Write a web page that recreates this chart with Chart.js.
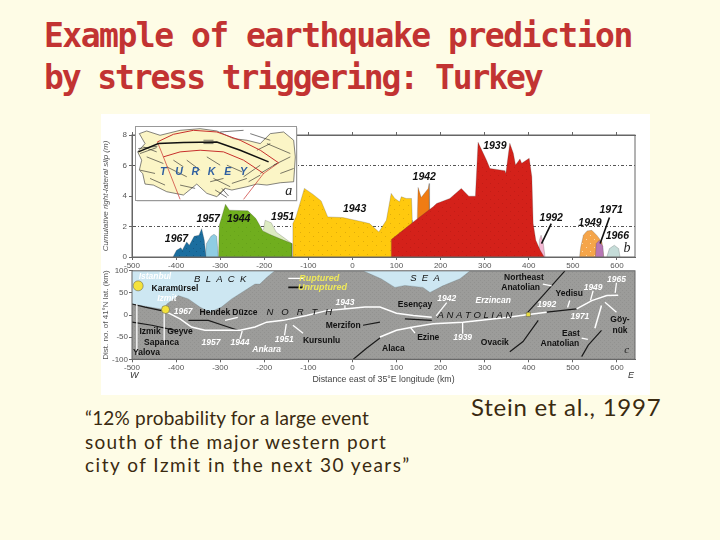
<!DOCTYPE html>
<html><head><meta charset="utf-8">
<script src="https://cdn.jsdelivr.net/npm/chart.js@4"></script>
<style>
html,body{margin:0;padding:0;width:720px;height:540px;overflow:hidden;background:#FEFCE6}
.t{position:absolute;white-space:nowrap}
#title1,#title2{left:44px;font:bold 33px "DejaVu Sans Mono","Open Sans",sans-serif;color:#C23332}
#title1{top:16px;letter-spacing:-1.5px}
#title2{top:58px;letter-spacing:-2.1px}
.q{left:85px;font:19px "Lato",sans-serif;color:#3A2A10}
#stein{left:471px;top:392px;font:24px "Lato",sans-serif;color:#3A2A10;letter-spacing:.75px}
#paper{position:absolute;left:101px;top:114px;width:549px;height:281px;background:#fff}
canvas{position:absolute;filter:blur(.35px)}
#cTop{left:101px;top:114px}
#cBot{left:101px;top:265px}
#cMap{left:136px;top:127px;box-shadow:1px 1px 1px #777;outline:1px solid #999}
</style></head><body>
<div id="title1" class="t">Example of earthquake prediction</div>
<div id="title2" class="t">by stress triggering: Turkey</div>
<div id="paper"></div>
<canvas id="cTop" width="549" height="156"></canvas>
<canvas id="cBot" width="549" height="120"></canvas>
<canvas id="cMap" width="160" height="73"></canvas>
<div class="t q" style="top:406px;letter-spacing:.2px">“12% probability for a large event</div>
<div class="t q" style="top:430px;letter-spacing:1.2px">south of the major western port</div>
<div class="t q" style="top:453px;letter-spacing:1.5px">city of Izmit in the next 30 years”</div>
<div id="stein" class="t">Stein et al., 1997</div>
<script>
// ---------- top panel: cumulative right-lateral slip (km, m) ----------
const km1967=[-407,-399,-389,-386,-376,-370,-359,-348,-342,-336,-332];
const slip1967=[0,.44,.61,.44,.99,.77,1.36,1.43,1.86,1.1,0];
const km1957=[-334,-331,-321,-314,-308,-304];
const slip1957=[0,.88,1.36,1.49,1.36,0];
const km1944=[-304,-302,-288,-279,-237,-219,-203,-188,-165,-137,-137];
const slip1944=[0,2.08,3.46,3.07,3.03,2.52,1.71,1.49,1.21,.88,0];
const km1951=[-202,-198,-184,-173,-158,-139,-139];
const slip1951=[1.75,2.41,2.24,1.64,1.32,.92,0];
const km1943=[-137,-135,-128,-109,-90,-71,-56,-22,24,39,60,77,88,96,107,111,122,134,136,136];
const slip1943=[0,2.2,2.63,4.5,4.12,3.68,2.63,2.59,2.3,2.19,1.64,2.41,4.17,3.84,3.62,3.95,3.84,3.84,2.41,0];
const km1942=[147,149,156,172,174,175,175];
const slip1942=[2.52,4.56,3.9,4.5,4.82,3.18,0];
const km1939=[88,88,138,183,191,221,247,264,279,285,304,312,346,348,357,365,370,380,384,395,401,407,410,416,426,435];
const slip1939=[0,1.14,2.3,3.29,3.51,3.84,4.5,3.99,3.99,7.52,6.36,5.81,5.66,5.48,7.46,6.8,6.03,6.43,6.14,6.36,6.47,5.26,2.19,1.1,.44,0];
const km1992=[424,424,428,433,437];
const slip1992=[0,1.1,1.43,.88,0];
const km1949=[515,518,524,532,543,554,566,570];
const slip1949=[0,.66,1.43,1.71,1.75,1.43,.99,0];
const km1971=[551,553,560,568,570];
const slip1971=[0,.88,1.1,.7,0];
const km1966=[577,583,594,604,607];
const slip1966=[0,.55,.77,.55,0];
const leader1992Km=[451,429], leader1992Slip=[2.19,.88];
const leader1971Km=[583,562], leader1971Slip=[2.59,.88];
const topTicksX=[-500,-400,-300,-200,-100,0,100,200,300,400,500,600];
const topLabelText=['1967','1957','1944','1951','1943','1942','1939','1992','1949','1971','1966'];
const topLabelKm=[-399,-327,-258,-158,5,163,323,451,539,587,601];
const topLabelSlip=[1.2,2.48,2.48,2.59,3.14,5.22,7.24,2.57,2.19,3.07,1.4];

// ---------- bottom panel: map strip (km, distance) ----------
const coastKm=[-500,-470.5,-427,-421,-395,-372,-346,-323,-297,-274,-251,-221,-210,-194.5,-176,24,65,96.5,119,160,176,205,244,267,640];
const coastDist=[25,20,12.5,25,44,36.5,18,6.5,18,36.5,51,70,70,85,100,100,82,62.5,67,62.5,51,66,82,100,100];
const ruptAKm=[-421,-391,-365,-334.5,-255,-221,-194.5,-157,-104,-58.5,-13,28.5,62.5,100,138,180];
const ruptADist=[6.5,-8.5,-27,-34.5,-34.5,-27,-16,-12,-1,10,14,18,18,4,-1,-5];
const ruptBKm=[62.5,100,138,183,251,354,395,440.6];
const ruptBDist=[-49.5,-34.5,-27,-19.5,-16,-5,.7,6.5];
const ruptCKm=[508.6,543,577,603];
const ruptCDist=[14,32.7,44,45];
const ruptDKm=[565,550];
const ruptDDist=[21.5,-30];
const unrupt=[
 [[-500,-470.5,-433],[25,18,10]],
 [[-500,-455,-402],[-16,-23,-34.5]],
 [[-372,-327,-282,-259],[-12,-12,-27,-34.5]],
 [[24,62.5],[-23,-16]],
 [[119,180],[-8.5,-12]],
 [[440.6,508.6],[6.5,14]],
 [[395,432,482],[3,44,100]],
 [[421.5,387,357],[-12,-60,-83]],
 [[565,535,520],[-34.5,-68,-94]],
 [[2,32,62.5],[-100,-75,-52]]
];
const whiteLeaders=[
 [[-489,-489],[25,-90]],[[-427,-427],[6.5,-68]],
 [[-145.5,-111.5],[83,83]],[[-17,-17],[22,14]],[[214,190],[28,-2]],
 [[250,250],[-42,-18]],[[-154,-150],[-46,-20]],[[-255,-250],[-54,-36]],
 [[546,540],[55,33]],[[599,596],[73,50]],[[508,508],[-4,-4]],
 [[-112,-135],[-41,-23]],[[142,131],[-41,-27]],[[599,573],[6.5,29]],
 [[452,432],[66,70]],[[493,488],[33,17]],[[534,520],[-55,-52]],[[-289,-260],[-12,-5]]
];
const legendUnruptKm=[-145.5,-111.5], legendUnruptDist=[62.5,62.5];
const istanbulKm=[-486], istanbulDist=[66];
const izmitKm=[-424], izmitDist=[12.5];
const erzincanKm=[399], erzincanDist=[1.3];
const botTicksY=[-100,-50,0,50,100];
const botLabelText=['Karamürsel','Hendek','Düzce','Izmik','Geyve','Sapanca','Yalova','Kursunlu','Merzifon','Esençay','Ezine','Alaca','Ovacik','Northeast','Anatolian','Yedisu','Göy-','nük','East','Anatolian'];
const botLabelKm=[-402.5,-312,-244,-459,-391,-433,-467,-70,-21,142,172,93,323,389,381.5,492,607,607,495.7,470.7];
const botLabelDist=[60,6.5,6.5,-38,-38,-63,-84,-57,-23,23,-51,-75,-62,85,62.5,47.7,-10,-34.5,-42,-64];
const whiteLabelText=['Istanbul','Izmit','1967','1957','1944','Ankara','1951','1943','1942','Erzincan','1939','1949','1965','1992','1971'];
const whiteLabelKm=[-448,-421,-384,-321,-255,-194.5,-154.5,-17,214,319.5,250,546,599,440.6,516];
const whiteLabelDist=[87,36.5,8,-62,-62,-78,-55,29,36.5,32.7,-51,62.5,81,23.7,-4.7];
const spacedText=['B  L  A  C  K','N   O   R   T   H','S  E  A','A N A T O L I A N'];
const spacedKm=[-300,-120.5,164.5,278];
const spacedDist=[81,6.5,82.6,-1];

// ---------- inset map of Turkey (map grid units) ----------
const turkeyX=[118,140,180,240,300,350,400,440,480,510,550,580,585,580,540,500,470,440,395,375,350,320,290,250,200,160,135,128,118,125,113,135,118];
const turkeyY=[70,62,75,60,55,62,85,90,100,70,65,90,140,215,218,225,222,230,240,235,260,250,222,255,245,225,222,190,180,150,125,100,70];
const redOuterX=[172,220,280,350,420,480,535], redOuterY=[95,72,60,65,90,120,158];
const redInnerX=[190,240,300,370,430,490], redInnerY=[140,125,120,125,150,190];
const redWestX=[172,190,240], redWestY=[95,140,268];
const redEastX=[535,490,430], redEastY=[158,190,268];
const faultX=[115,175,250,350,420,505], faultY=[125,100,97,95,120,155];
const thinFaults=[
 [[310,340],[90,90]],[[310,340],[100,100]],
 [[120,165],[180,190]],[[140,190],[140,160]],[[200,260],[170,200]],[[260,300],[150,180]],
 [[340,390],[205,230]],[[345,380],[240,262]],[[430,480],[200,165]],[[500,570],[100,130]],
 [[520,570],[165,140]],[[450,510],[70,90]],[[360,430],[65,60]],[[130,170],[110,125]],[[480,530],[190,160]],
 [[115,172],[115,108]],[[120,170],[130,112]],[[150,195],[205,225]],[[220,250],[150,170]],[[320,360],[140,165]],
 [[380,425],[165,185]],[[330,370],[215,205]],[[445,480],[215,195]],[[540,580],[190,175]],[[240,285],[225,235]],
 [[355,375],[255,235]],[[365,385],[235,258]],[[395,440],[220,205]],[[470,510],[120,100]]
];

const pts=(xs,ys)=>xs.map((x,i)=>({x,y:ys[i]}));
function pattern(base,dot,step){
  const c=document.createElement('canvas');c.width=c.height=step;
  const g=c.getContext('2d');g.fillStyle=base;g.fillRect(0,0,step,step);
  g.fillStyle=dot;g.fillRect(1,1,1,1);g.fillRect(Math.floor(step/2)+1,Math.floor(step/2)+1,1,1);
  return g.createPattern(c,'repeat');
}
const area=(xs,ys,col,order,edge)=>({data:pts(xs,ys),backgroundColor:col,borderColor:edge||'rgba(60,60,60,.45)',borderWidth:.5,fill:'origin',pointRadius:0,tension:0,order});
const line=(xs,ys,col,w,order)=>({data:pts(xs,ys),borderColor:col,borderWidth:w,fill:false,pointRadius:0,tension:0,order:order||0});
const dot=(xs,ys,col,r,style)=>({data:pts(xs,ys),showLine:false,pointRadius:r,pointStyle:style||'circle',pointBackgroundColor:col,pointBorderColor:'#555',pointBorderWidth:.5,order:0});
const frame={id:'frame',afterDraw(c){const a=c.chartArea,g=c.ctx;g.save();g.strokeStyle='#666';g.lineWidth=1;g.strokeRect(a.left,a.top,a.width,a.height);g.restore();}};
function textPlugin(id,groups){return {id,afterDatasetsDraw(c){const g=c.ctx,sx=c.scales.x,sy=c.scales.y;g.save();g.textAlign='center';g.textBaseline='middle';
  groups.forEach(o=>{g.font=o.font;g.fillStyle=o.color;o.text.forEach((t,i)=>g.fillText(t,sx.getPixelForValue(o.xs[i]),sy.getPixelForValue(o.ys[i])));});g.restore();}};}
const tickFont={family:'Liberation Sans',size:8};
const addX=(vals)=>s=>{s.ticks=vals.map(value=>({value}));};
const base={responsive:false,animation:false,plugins:{legend:{display:false},tooltip:{enabled:false}}};

new Chart(document.getElementById('cTop'),{type:'line',
 data:{datasets:[
  area(km1939,slip1939,pattern('#D4211A','#C21C16',8),2),
  area(km1942,slip1942,'#F07C13',3),
  area(km1943,slip1943,pattern('#FFC90E','#E0AC0A',9),4),
  area(km1944,slip1944,pattern('#70AE1E','#66A21A',8),5),
  area(km1951,slip1951,'#DDEBC2',6),
  area(km1967,slip1967,pattern('#1B6E9F','#155A85',7),5),
  area(km1957,slip1957,'#8FCDE3',5),
  area(km1992,slip1992,'#F3B7D2',3),
  area(km1971,slip1971,'#B777B5',3),
  area(km1949,slip1949,pattern('#F5A54A','#FBD9A8',8),4),
  area(km1966,slip1966,'#C5DCD8',4),
  line(leader1992Km,leader1992Slip,'#111',1.6,1),
  line(leader1971Km,leader1971Slip,'#111',1.6,1)
 ]},
 options:{...base,layout:{padding:{top:21,right:15,left:0,bottom:0}},
  scales:{
   x:{type:'linear',min:-500,max:641,afterBuildTicks:addX(topTicksX),afterFit:s=>{s.height=13},
      grid:{drawOnChartArea:false,tickLength:3,tickColor:'#666'},border:{color:'#666'},
      ticks:{font:tickFont,color:'#555',padding:1,autoSkip:false,maxRotation:0}},
   xTop:{type:'linear',position:'top',min:-500,max:641,afterBuildTicks:addX(topTicksX),afterFit:s=>{s.height=0},
      grid:{drawOnChartArea:false,tickLength:3,tickColor:'#666'},ticks:{display:false},border:{color:'#666'}},
   y:{min:0,max:8,afterFit:s=>{s.width=31},
      title:{display:true,text:'Cumulative right-lateral slip (m)',font:{family:'Liberation Sans',size:8,style:'italic'},color:'#555',padding:0},
      grid:{color:c=>(c.tick&&(c.tick.value===2||c.tick.value===6))?'#555':'transparent',tickColor:'#666',tickLength:3},
      border:{dash:[3,2,1,2],color:'#666'},
      ticks:{stepSize:2,font:tickFont,color:'#555',padding:2}}
  }},
 plugins:[frame,textPlugin('topText',[
   {font:'italic bold 10.5px "Liberation Sans"',color:'#111',text:topLabelText,xs:topLabelKm,ys:topLabelSlip},
   {font:'italic 14px "Liberation Serif"',color:'#222',text:['b'],xs:[623],ys:[.55]}
 ])]
});

new Chart(document.getElementById('cBot'),{type:'line',
 data:{datasets:[
  {...line(coastKm,coastDist,'rgba(90,110,120,.5)',.5,5),fill:'end',backgroundColor:'#CDE7F2'},
  ...unrupt.map(u=>line(u[0],u[1],'#1A1A1A',1.2,3)),
  line(legendUnruptKm,legendUnruptDist,'#111',1.8,3),
  line(ruptAKm,ruptADist,'#FFFFFF',1.5,2),
  line(ruptBKm,ruptBDist,'#FFFFFF',1.5,2),
  line(ruptCKm,ruptCDist,'#FFFFFF',1.5,2),
  line(ruptDKm,ruptDDist,'#FFFFFF',1.5,2),
  ...whiteLeaders.map(u=>line(u[0],u[1],'#FFFFFF',1.3,2)),
  dot(istanbulKm,istanbulDist,'#F4E23C',5),
  dot(izmitKm,izmitDist,'#F4E23C',4),
  dot(erzincanKm,erzincanDist,'#E8DC40',3,'rect')
 ]},
 options:{...base,layout:{padding:{top:5,right:15,left:0,bottom:0}},
  scales:{
   x:{type:'linear',min:-500,max:641,afterBuildTicks:addX(topTicksX),afterFit:s=>{s.height=25.7},
      title:{display:true,text:'Distance east of 35°E longitude (km)',font:{family:'Liberation Sans',size:8.75},color:'#444',padding:{top:2,bottom:0}},
      grid:{drawOnChartArea:false,tickLength:3,tickColor:'#666'},border:{color:'#666'},
      ticks:{font:tickFont,color:'#555',padding:1,autoSkip:false,maxRotation:0}},
   y:{min:-100,max:100,afterBuildTicks:addX(botTicksY),afterFit:s=>{s.width=31},
      title:{display:true,text:'Dist. no. of 41°N lat. (km)',font:{family:'Liberation Sans',size:8},color:'#555',padding:0},
      grid:{drawOnChartArea:false,tickLength:3,tickColor:'#666'},border:{color:'#666'},
      ticks:{font:tickFont,color:'#555',padding:1}}
  }},
 plugins:[
  {id:'land',beforeDatasetsDraw(c){const a=c.chartArea,g=c.ctx;g.save();g.fillStyle=pattern('#9C9C9A','#929290',4);g.fillRect(a.left,a.top,a.width,a.height);g.restore();}},
  frame,
  textPlugin('botText',[
   {font:'bold 8.5px "Liberation Sans"',color:'#111',text:botLabelText,xs:botLabelKm,ys:botLabelDist},
   {font:'italic bold 8.5px "Liberation Sans"',color:'#FFFFFF',text:whiteLabelText,xs:whiteLabelKm,ys:whiteLabelDist},
   {font:'italic 9.5px "Liberation Sans"',color:'#111',text:spacedText,xs:spacedKm,ys:spacedDist},
   {font:'italic bold 9px "Liberation Sans"',color:'#EEE85A',text:['Ruptured','Unruptured'],xs:[-75,-68],ys:[83,62.5]},
   {font:'italic 9px "Liberation Sans"',color:'#333',text:['W','E'],xs:[-495,632],ys:[-137.5,-137.5]},
   {font:'italic 11px "Liberation Serif"',color:'#222',text:['c'],xs:[622],ys:[-79]}
  ])]
});

new Chart(document.getElementById('cMap'),{type:'line',
 data:{datasets:[
  {...line(turkeyX,turkeyY,'#333',.6,6),fill:'shape',backgroundColor:'#FBF5C6'},
  line(redOuterX,redOuterY,'#C8302C',1,2),line(redInnerX,redInnerY,'#C8302C',1,2),
  line(redWestX,redWestY,'#C8302C',.7,2),line(redEastX,redEastY,'#C8302C',.7,2),
  line(faultX,faultY,'#111',1.5,1),
  ...thinFaults.map(u=>line(u[0],u[1],'#222',.6,3))
 ]},
 options:{...base,layout:{padding:0},
  scales:{x:{type:'linear',display:false,min:108,max:587},y:{display:false,reverse:true,min:50,max:270}}},
 plugins:[
  {id:'paperFill',beforeDraw(c){const g=c.ctx;g.save();g.fillStyle='#FFFFFF';g.fillRect(0,0,c.width,c.height);g.restore();}},
  textPlugin('mapText',[
   {font:'italic bold 10.5px "Liberation Sans"',color:'#2F5FA0',text:['T   U   R   K   E   Y'],xs:[310],ys:[185]},
   {font:'italic 14px "Liberation Serif"',color:'#222',text:['a'],xs:[565],ys:[245]}
  ])]
});
</script></body></html>
